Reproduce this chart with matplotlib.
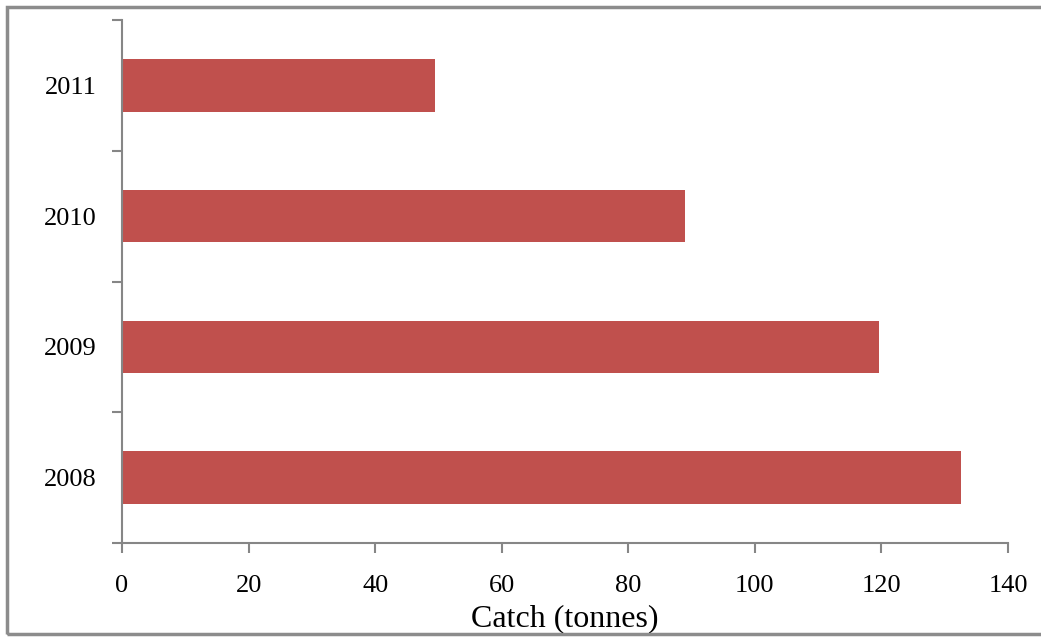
import matplotlib
matplotlib.use("Agg")
import matplotlib.pyplot as plt
from matplotlib.patches import Rectangle

years = ["2008", "2009", "2010", "2011"]
catch = [132.5, 119.6, 88.9, 49.5]
xticks = [0, 20, 40, 60, 80, 100, 120, 140]

plt.rcParams['font.family'] = ['Liberation Serif', 'DejaVu Serif']

W, H = 1041, 638
fig = plt.figure(figsize=(W / 100, H / 100), dpi=100)
ax = fig.add_axes([122 / W, 1 - 543 / H, (1008 - 122) / W, (543 - 20) / H])

axis_grey = '#868686'
ax.barh(range(len(years)), catch, height=0.4, color='#C0504D', edgecolor='none')

ax.set_xlim(0, 140)
ax.set_ylim(-0.5, len(years) - 0.5)
ax.set_xticks(xticks)
ax.set_xticklabels([str(v) for v in xticks], fontsize=19)
ax.set_yticks(range(len(years)))
ax.set_yticklabels(years, fontsize=19)
ax.tick_params(axis='y', length=0, pad=18)
ax.tick_params(axis='x', length=7, width=1.5, color=axis_grey, pad=16)

# y ticks on category boundaries
ax.set_yticks([i - 0.5 for i in range(len(years) + 1)], minor=True)
ax.tick_params(axis='y', which='minor', length=7, width=1.5, color=axis_grey)

for s in ['top', 'right']:
    ax.spines[s].set_visible(False)
for s in ['left', 'bottom']:
    ax.spines[s].set_color(axis_grey)
    ax.spines[s].set_linewidth(1.5)

ax.set_xlabel('Catch (tonnes)', fontsize=23, labelpad=5)

# outer chart border
fig.patches.append(Rectangle((7 / W, 1 - 634 / H), (1055 - 7) / W, (634 - 7) / H,
                             transform=fig.transFigure, fill=False,
                             edgecolor='#8c8c8c', linewidth=2.5, zorder=0))

fig.savefig('out.png', dpi=100)
